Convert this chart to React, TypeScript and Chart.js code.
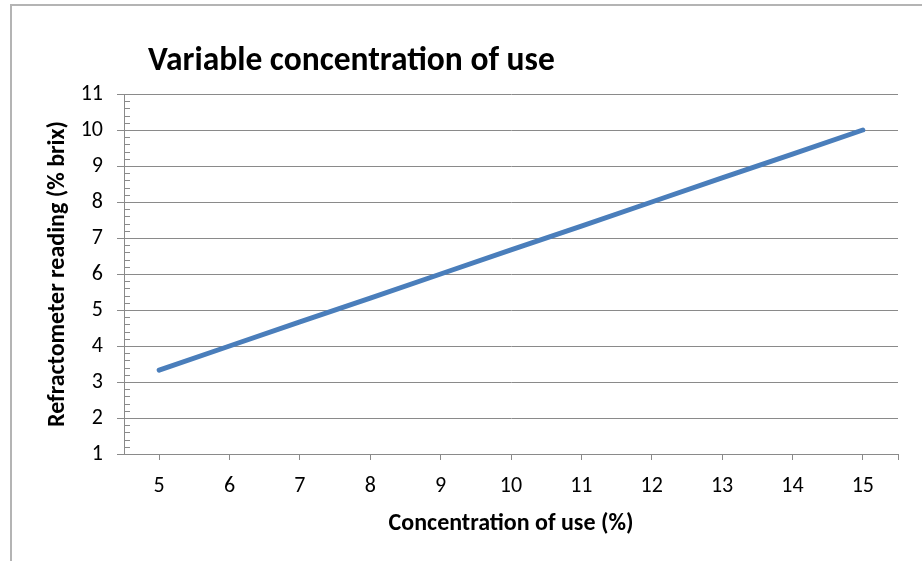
import React, { useEffect, useRef } from 'react';
import { Chart, registerables } from 'chart.js';

Chart.register(...registerables);

const TITLE = 'Variable concentration of use';
const X_TITLE = 'Concentration of use (%)';
const Y_TITLE = 'Refractometer reading (% brix)';

const concentrations = [5, 6, 7, 8, 9, 10, 11, 12, 13, 14, 15];
const readings = [3.33, 4, 4.67, 5.33, 6, 6.67, 7.33, 8, 8.67, 9.33, 10];
const yMin = 1;
const yMax = 11;
const xMin = 4.5;
const xMax = 15.5;

const FONT = 'Carlito, Lato, sans-serif';
const AXIS_GRAY = '#8a8a8a';

const titlePlugin = {
  id: 'leftTitle',
  afterDraw(chart: any) {
    const ctx = chart.ctx;
    ctx.save();
    ctx.font = `bold 33.5px ${FONT}`;
    ctx.fillStyle = '#000';
    ctx.textAlign = 'left';
    ctx.textBaseline = 'alphabetic';
    ctx.fillText(TITLE, chart.chartArea.left + 24, 70);
    ctx.restore();
  },
};

const minorTickPlugin = {
  id: 'minorTicks',
  afterDraw(chart: any) {
    const ctx = chart.ctx;
    const y = chart.scales.y;
    const left = chart.chartArea.left;
    ctx.save();
    ctx.strokeStyle = AXIS_GRAY;
    ctx.lineWidth = 1;
    ctx.beginPath();
    for (let v = yMin; v < yMax; v += 1) {
      for (let k = 1; k < 5; k++) {
        const p = Math.round(y.getPixelForValue(v + k * 0.2)) + 0.5;
        ctx.moveTo(left, p);
        ctx.lineTo(left + 6, p);
      }
    }
    ctx.stroke();
    ctx.restore();
  },
};

export default function App() {
  const ref = useRef<HTMLCanvasElement>(null);

  useEffect(() => {
    if (!ref.current) return;
    const chart = new Chart(ref.current, {
      type: 'line',
      data: {
        datasets: [
          {
            data: concentrations.map((c, i) => ({ x: c, y: readings[i] })),
            borderColor: '#4a7ebb',
            borderWidth: 5,
            pointRadius: 0,
            borderCapStyle: 'round',
            tension: 0,
          },
        ],
      },
      options: {
        animation: false,
        responsive: false,
        devicePixelRatio: 1,
        layout: { padding: { left: 40, top: 94, right: 24, bottom: 19 } },
        plugins: { legend: { display: false }, tooltip: { enabled: false }, title: { display: false } },
        scales: {
          x: {
            type: 'linear',
            min: xMin,
            max: xMax,
            afterBuildTicks: (s: any) => {
              s.ticks = [...concentrations, xMax].map((v) => ({ value: v }));
            },
            afterFit: (s: any) => {
              s.height = 88;
            },
            ticks: {
              autoSkip: false,
              maxRotation: 0,
              padding: 13,
              color: '#000',
              font: { family: FONT, size: 22 },
              callback: (v: any) => (Number.isInteger(v) ? String(v) : ''),
            },
            grid: { drawOnChartArea: false, tickLength: 6, color: AXIS_GRAY },
            border: { color: AXIS_GRAY },
            title: {
              display: true,
              text: X_TITLE,
              color: '#000',
              font: { family: FONT, size: 24, weight: 'bold' },
            },
          },
          y: {
            min: yMin,
            max: yMax,
            afterFit: (s: any) => {
              s.width = 84;
            },
            ticks: {
              stepSize: 1,
              padding: 14,
              color: '#000',
              font: { family: FONT, size: 22 },
            },
            grid: { color: AXIS_GRAY, tickLength: 7 },
            border: { color: AXIS_GRAY },
            title: {
              display: true,
              text: Y_TITLE,
              color: '#000',
              font: { family: FONT, size: 24, weight: 'bold' },
            },
          },
        },
      },
      plugins: [titlePlugin, minorTickPlugin],
    } as any);
    return () => chart.destroy();
  }, []);

  return (
    <div style={{ position: 'absolute', left: 0, top: 0, width: 922, height: 561, background: '#fff' }}>
      <div
        style={{
          position: 'absolute',
          left: 10,
          top: 4,
          right: 0,
          bottom: 0,
          borderLeft: '2px solid #b4b4b4',
          borderTop: '2px solid #b4b4b4',
        }}
      />
      <canvas ref={ref} width={922} height={561} style={{ position: 'absolute', left: 0, top: 0 }} />
    </div>
  );
}
